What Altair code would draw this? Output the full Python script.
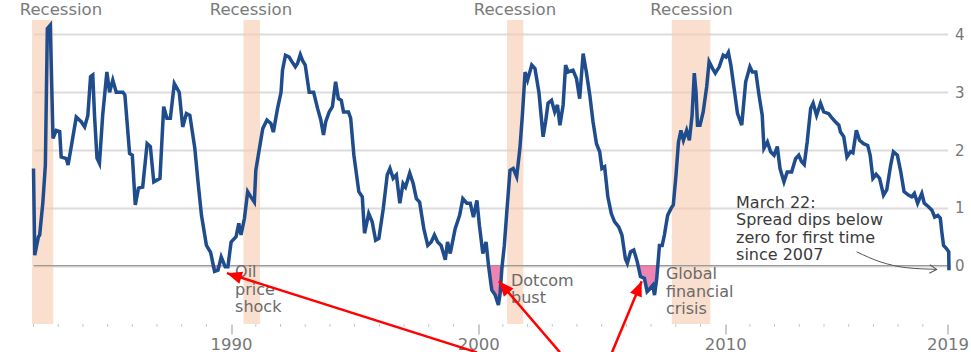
import math
import altair as alt
import pandas as pd

# Spread between long and short US Treasury yields (percentage points)
years = [
    1982.00, 1982.05, 1982.20, 1982.25, 1982.38, 1982.48, 1982.56, 1982.68, 1982.75, 1982.79,
    1982.92, 1983.06, 1983.12, 1983.33, 1983.40, 1983.53, 1983.73, 1983.93, 1984.07, 1984.20,
    1984.31, 1984.40, 1984.47, 1984.57, 1984.67, 1984.80, 1984.97, 1985.08, 1985.21, 1985.35,
    1985.62, 1985.70, 1985.89, 1986.00, 1986.12, 1986.25, 1986.42, 1986.60, 1986.73, 1986.87,
    1987.12, 1987.27, 1987.40, 1987.54, 1987.70, 1987.90, 1988.04, 1988.19, 1988.33, 1988.53,
    1988.66, 1988.80, 1989.00, 1989.17, 1989.33, 1989.47, 1989.60, 1989.76, 1989.87, 1990.00,
    1990.20, 1990.31, 1990.40, 1990.54, 1990.67, 1990.80, 1990.94, 1991.00, 1991.10, 1991.28,
    1991.45, 1991.61, 1991.71, 1991.88, 1992.02, 1992.08, 1992.20, 1992.35, 1992.46, 1992.60,
    1992.69, 1992.80, 1992.89, 1993.00, 1993.16, 1993.34, 1993.50, 1993.63, 1993.74, 1993.83,
    1993.97, 1994.10, 1994.23, 1994.34, 1994.46, 1994.55, 1994.75, 1994.84, 1994.97, 1995.17,
    1995.31, 1995.40, 1995.57, 1995.71, 1995.85, 1995.98, 1996.16, 1996.32, 1996.43, 1996.56,
    1996.69, 1996.83, 1996.96, 1997.06, 1997.23, 1997.37, 1997.50, 1997.63, 1997.80, 1997.96,
    1998.10, 1998.23, 1998.36, 1998.50, 1998.67, 1998.76, 1998.87, 1999.07, 1999.25, 1999.38,
    1999.54, 1999.68, 1999.81, 1999.95, 2000.05, 2000.19, 2000.32, 2000.42, 2000.55, 2000.69,
    2000.82, 2000.89, 2000.96, 2001.06, 2001.16, 2001.29, 2001.42, 2001.56, 2001.69, 2001.79,
    2001.90, 2002.00, 2002.17, 2002.30, 2002.46, 2002.63, 2002.73, 2002.83, 2002.97, 2003.10,
    2003.21, 2003.31, 2003.44, 2003.54, 2003.64, 2003.84, 2003.98, 2004.11, 2004.25, 2004.38,
    2004.52, 2004.65, 2004.79, 2004.92, 2005.01, 2005.12, 2005.25, 2005.39, 2005.52, 2005.69,
    2005.82, 2005.96, 2006.04, 2006.17, 2006.30, 2006.44, 2006.57, 2006.73, 2006.84, 2006.95,
    2007.07, 2007.14, 2007.23, 2007.34, 2007.45, 2007.54, 2007.67, 2007.81, 2007.90, 2008.01,
    2008.11, 2008.21, 2008.31, 2008.44, 2008.55, 2008.66, 2008.75, 2008.82, 2008.88, 2008.98,
    2009.11, 2009.25, 2009.35, 2009.49, 2009.60, 2009.76, 2009.92, 2010.03, 2010.13, 2010.23,
    2010.36, 2010.50, 2010.67, 2010.83, 2011.00, 2011.10, 2011.24, 2011.37, 2011.50, 2011.57,
    2011.71, 2011.84, 2011.98, 2012.11, 2012.22, 2012.38, 2012.51, 2012.69, 2012.85, 2012.98,
    2013.09, 2013.20, 2013.32, 2013.46, 2013.56, 2013.70, 2013.86, 2013.99, 2014.19, 2014.33,
    2014.46, 2014.60, 2014.67, 2014.80, 2014.93, 2015.07, 2015.17, 2015.31, 2015.44, 2015.60,
    2015.77, 2015.87, 2015.98, 2016.11, 2016.25, 2016.41, 2016.54, 2016.70, 2016.81, 2016.97,
    2017.11, 2017.24, 2017.42, 2017.55, 2017.66, 2017.79, 2017.96, 2018.06, 2018.23, 2018.37,
    2018.48, 2018.61, 2018.71, 2018.77, 2018.84, 2018.95, 2019.05, 2019.06,
]
spread = [
    1.68, 0.18, 0.50, 0.53, 1.10, 1.74, 4.10, 4.16, 2.90, 2.20,
    2.34, 2.32, 1.88, 1.85, 1.74, 2.06, 2.57, 2.49, 2.40, 2.60,
    3.27, 3.30, 2.60, 1.86, 1.77, 2.60, 3.35, 3.00, 3.21, 3.00,
    3.00, 2.95, 1.94, 1.91, 1.05, 1.34, 1.36, 2.11, 2.06, 1.45,
    1.51, 2.75, 2.55, 2.55, 3.15, 3.00, 2.40, 2.63, 2.60, 2.03,
    1.45, 0.87, 0.35, 0.23, -0.10, -0.08, 0.15, -0.02, -0.02, 0.41,
    0.50, 0.73, 0.53, 0.82, 1.28, 1.19, 1.10, 1.65, 1.91, 2.37,
    2.52, 2.46, 2.31, 2.72, 3.00, 3.38, 3.64, 3.61, 3.53, 3.44,
    3.50, 3.65, 3.55, 3.47, 3.00, 3.00, 2.72, 2.52, 2.26, 2.49,
    2.66, 2.75, 3.18, 2.89, 2.86, 2.66, 2.66, 2.55, 1.91, 1.28,
    1.19, 0.56, 0.90, 0.76, 0.44, 0.47, 0.99, 1.57, 1.68, 1.51,
    1.57, 1.08, 1.42, 1.36, 1.60, 1.42, 1.16, 1.10, 0.64, 0.35,
    0.41, 0.53, 0.41, 0.35, 0.10, 0.41, 0.21, 0.64, 0.87, 1.16,
    1.08, 1.08, 0.84, 1.13, 0.70, 0.21, 0.41, 0.00, -0.42, -0.51,
    -0.68, -0.48, -0.05, 0.35, 0.93, 1.65, 1.68, 1.54, 2.03, 2.60,
    3.35, 3.21, 3.47, 3.41, 3.00, 2.23, 2.49, 2.81, 2.86, 2.66,
    2.78, 2.43, 2.78, 3.47, 3.35, 3.38, 3.24, 2.89, 3.67, 3.35,
    2.95, 2.49, 2.11, 1.97, 1.68, 1.71, 1.19, 0.90, 0.76, 0.67,
    0.53, 0.12, 0.04, 0.24, 0.27, 0.07, -0.19, -0.22, -0.45, -0.40,
    -0.34, -0.51, -0.22, 0.35, 0.35, 0.53, 0.87, 0.99, 1.05, 1.57,
    2.14, 2.34, 2.17, 2.34, 2.17, 2.60, 3.33, 3.00, 2.43, 2.43,
    2.66, 3.09, 3.53, 3.41, 3.33, 3.44, 3.64, 3.61, 3.69, 3.47,
    3.07, 2.63, 2.43, 3.18, 3.44, 3.35, 3.35, 2.95, 2.60, 2.03,
    2.14, 1.97, 1.91, 2.06, 1.68, 1.45, 1.62, 1.62, 1.85, 1.91,
    1.80, 1.75, 2.14, 2.72, 2.81, 2.60, 2.81, 2.66, 2.63, 2.55,
    2.49, 2.43, 2.31, 2.23, 1.88, 1.97, 1.95, 2.34, 2.17, 2.11,
    2.08, 1.91, 1.51, 1.58, 1.51, 1.22, 1.31, 1.74, 1.97, 1.91,
    1.62, 1.28, 1.22, 1.19, 1.25, 1.08, 1.25, 1.08, 1.02, 0.96,
    0.84, 0.87, 0.82, 0.58, 0.35, 0.30, 0.24, -0.08,
]

# US recessions (decimal years)
rec_start = [1981.94, 1990.50, 2001.17, 2007.84]
rec_end = [1982.80, 1991.17, 2001.83, 2009.40]
rec_label_x = [1983.11, 1990.80, 2001.49, 2008.64]
rec_label_y = 4.34

# Event captions
event_text = ["Oil\nprice\nshock", "Dotcom\nbust", "Global\nfinancial\ncrisis"]
event_x = [1990.16, 2001.33, 2007.60]
event_y = [-0.20, -0.35, -0.24]

note_text = "March 22:\nSpread dips below\nzero for first time\nsince 2007"
note_x, note_y = 2010.44, 1.0

# Curved pointer from the note to the latest reading
pointer_x = [2015.32, 2016.27, 2017.35, 2018.56]
pointer_y = [0.24, 0.067, -0.036, -0.064]

# Red call-out arrows to the inversions (tail -> tip)
arrow_tail_x = [1999.95, 2003.31, 2005.42]
arrow_tail_y = [-1.50, -1.50, -1.50]
arrow_tip_x = [1989.83, 2000.84, 2006.62]
arrow_tip_y = [-0.13, -0.27, -0.27]

X0, X1 = 1982, 2019
Y0, Y1 = -1.01, 4.25
W, H = 914, 304
px_x = W / (X1 - X0)
px_y = H / (Y1 - Y0)

FONT = "DejaVu Sans"

xs = alt.Scale(domain=[X0, X1], nice=False, zero=False)
ys = alt.Scale(domain=[Y0, Y1], nice=False, zero=False)

x_axis = alt.Axis(
    values=[1990, 2000, 2010, 2019], format="d", title=None,
    domain=False, grid=False, tickSize=10, tickColor="#a8a8a8", tickWidth=1.2,
    labelFont=FONT, labelFontSize=16.5, labelColor="#777777",
    labelPadding=2, labelOverlap=False, labelFlush=False,
)
y_axis = alt.Axis(
    orient="right", values=[0, 1, 2, 3, 4], format="d", title=None,
    domain=False, ticks=False, labelPadding=7,
    labelFont=FONT, labelFontSize=15, labelColor="#777777",
    gridColor="#dcdcdc", gridWidth=1.8,
)

series = pd.DataFrame({"year": years, "spread": spread})
series["neg"] = series["spread"].clip(upper=0)

recessions = pd.DataFrame({"start": rec_start, "end": rec_end})
rec_labels = pd.DataFrame({"x": rec_label_x, "y": [rec_label_y] * len(rec_label_x),
                           "label": ["Recession"] * len(rec_label_x)})
events = pd.DataFrame({"x": event_x, "y": event_y, "label": event_text})
note = pd.DataFrame({"x": [note_x], "y": [note_y], "label": [note_text]})
pointer = pd.DataFrame({"x": pointer_x, "y": pointer_y})
zero = pd.DataFrame({"x": [X0], "x2": [X1], "y": [0.0]})

arrows = pd.DataFrame({"x": arrow_tail_x, "y": arrow_tail_y,
                       "x2": arrow_tip_x, "y2": arrow_tip_y})
arrows["angle"] = [
    math.degrees(math.atan2((tx - sx) * px_x, (ty - sy) * px_y)) % 360
    for sx, sy, tx, ty in zip(arrow_tail_x, arrow_tail_y, arrow_tip_x, arrow_tip_y)
]

minor = pd.DataFrame({"year": [y for y in range(X0, X1) if y % 10 != 0]})
minor["y"] = Y0
minor["y2"] = Y0 - 2.8 / px_y


def X(field):
    return alt.X(field, scale=xs, axis=x_axis)


def Y(field):
    return alt.Y(field, scale=ys, axis=y_axis)


shade = alt.Chart(recessions).mark_rect(color="#f7c9ad", opacity=0.6).encode(
    x=X("start:Q"), x2="end:Q"
)

zero_line = alt.Chart(zero).mark_rule(color="#9a9a9a", strokeWidth=1.2).encode(
    x=X("x:Q"), x2="x2:Q", y=Y("y:Q")
)

rec_text = alt.Chart(rec_labels).mark_text(
    font=FONT, fontSize=16.5, color="#7a7a7a", align="center", baseline="alphabetic"
).encode(x=X("x:Q"), y=Y("y:Q"), text="label:N")

minor_ticks = alt.Chart(minor).mark_rule(color="#c4c4c4", strokeWidth=1).encode(
    x=X("year:Q"), y=Y("y:Q"), y2="y2:Q"
)

inversion = alt.Chart(series).mark_area(color="#ea6fa3", opacity=0.85).encode(
    x=X("year:Q"), y=Y("neg:Q"), y2=alt.Y2(datum=0)
)

line = alt.Chart(series).mark_line(color="#1e4c8d", strokeWidth=3.5).encode(
    x=X("year:Q"), y=Y("spread:Q")
)

event_labels = alt.Chart(events).mark_text(
    font=FONT, fontSize=16, color="#6a6a6a", align="left", baseline="alphabetic",
    lineBreak="\n", lineHeight=17.5,
).encode(x=X("x:Q"), y=Y("y:Q"), text="label:N")

note_label = alt.Chart(note).mark_text(
    font=FONT, fontSize=16, color="#3a3a3a", align="left", baseline="alphabetic",
    lineBreak="\n", lineHeight=17.5,
).encode(x=X("x:Q"), y=Y("y:Q"), text="label:N")

pointer_line = alt.Chart(pointer).mark_line(
    color="#555555", strokeWidth=1, interpolate="monotone"
).encode(x=X("x:Q"), y=Y("y:Q"))

pointer_head = alt.Chart(pointer.tail(1)).mark_point(
    shape="M-1,-0.6L0,0L-1,0.6", filled=False, size=200, color="#555555",
    strokeWidth=1, opacity=1, angle=3,
).encode(x=X("x:Q"), y=Y("y:Q"))

arrow_shaft = alt.Chart(arrows).mark_rule(color="#ff0000", strokeWidth=2.5).encode(
    x=X("x:Q"), y=Y("y:Q"), x2="x2:Q", y2="y2:Q"
)

arrow_head = alt.Chart(arrows).mark_point(
    shape="M0,0L-0.42,1L0.42,1Z", filled=True, size=900, color="#ff0000", opacity=1,
).encode(x=X("x2:Q"), y=Y("y2:Q"), angle=alt.Angle("angle:Q", scale=None))

chart = alt.layer(
    shade, zero_line, rec_text, minor_ticks, inversion, line, event_labels, note_label,
    pointer_line, pointer_head, arrow_shaft, arrow_head,
).properties(
    width=W, height=H,
    autosize=alt.AutoSizeParams(type="none"),
    padding={"left": 33.5, "top": 20, "right": 23.5, "bottom": 28},
    background="white",
).configure_view(stroke=None)

chart.save("out.html", embed_options={"renderer": "svg", "actions": False})
